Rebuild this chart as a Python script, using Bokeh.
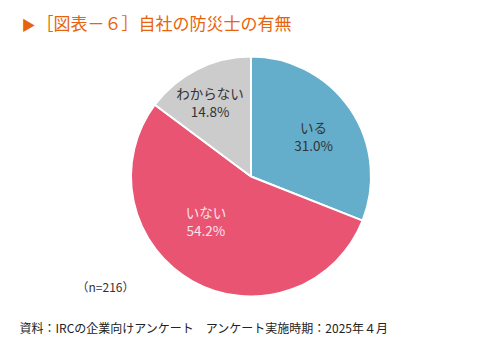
import math
from bokeh.plotting import figure
from bokeh.models import Range1d, ColumnDataSource
from bokeh.core.properties import value
from bokeh.embed import file_html
from bokeh.resources import INLINE

categories = ["いる", "いない", "わからない"]
shares = [31.0, 54.2, 14.8]
colors = ["#64AECC", "#E85472", "#CCCCCC"]
label_colors = ["#333333", "#FBE3E8", "#333333"]
title = "［図表－６］自社の防災士の有無"
n_note = "（n=216）"
source_note = "資料：IRCの企業向けアンケート　アンケート実施時期：2025年４月"

W, H = 500, 352
FONT = value("Noto Sans CJK JP")

p = figure(width=W, height=H, x_range=Range1d(0, W), y_range=Range1d(0, H),
           x_axis_type=None, y_axis_type=None, toolbar_location=None,
           output_backend="svg", min_border=0, outline_line_color=None,
           background_fill_color="white", border_fill_color="white")
p.grid.visible = False

cx, cy, r = 250.5, H - 176, 120
total = sum(shares)
starts, ends, lx, ly = [], [], [], []
label_r = [0.68, 0.60, 0.78]
nudge = [(-5, -5), (-10, 18), (1, -9)]
c = 0.0
for i, s in enumerate(shares):
    a0 = math.pi / 2 - 2 * math.pi * c / total
    c += s
    a1 = math.pi / 2 - 2 * math.pi * c / total
    starts.append(a0)
    ends.append(a1)
    mid = (a0 + a1) / 2
    lx.append(cx + label_r[i] * r * math.cos(mid) + nudge[i][0])
    ly.append(cy + label_r[i] * r * math.sin(mid) + nudge[i][1])

src = ColumnDataSource(dict(start=starts, end=ends, color=colors))
p.wedge(x=cx, y=cy, radius=r, start_angle="start", end_angle="end",
        direction="clock", fill_color="color", line_color="white",
        line_width=2, source=src)

lab = ColumnDataSource(dict(x=lx, y=ly, cat=categories,
                            pct=[f"{s:.1f}%" for s in shares], col=label_colors))
p.text(x="x", y="y", text="cat", source=lab, text_color="col",
       text_font=FONT, text_font_size="13.5px", text_align="center",
       text_baseline="bottom", y_offset=1)
p.text(x="x", y="y", text="pct", source=lab, text_color="col",
       text_font=FONT, text_font_size="13.5px", text_align="center",
       text_baseline="top", y_offset=-1)

# title
p.text(x=[21], y=[H - 23], text=["▶"], text_color="#E8640C", text_font=FONT,
       text_font_size="14px", text_baseline="middle")
p.text(x=[36], y=[H - 22], text=[title], text_color="#E8640C", text_font=FONT,
       text_font_size="17px", text_baseline="middle")

p.text(x=[76], y=[H - 286], text=[n_note], text_color="#333333", text_font=FONT,
       text_font_size="12px", text_baseline="middle")
p.text(x=[19], y=[H - 327], text=[source_note], text_color="#222222", text_font=FONT,
       text_font_size="12px", text_baseline="middle")

open("out.html", "w").write(file_html(p, INLINE))
